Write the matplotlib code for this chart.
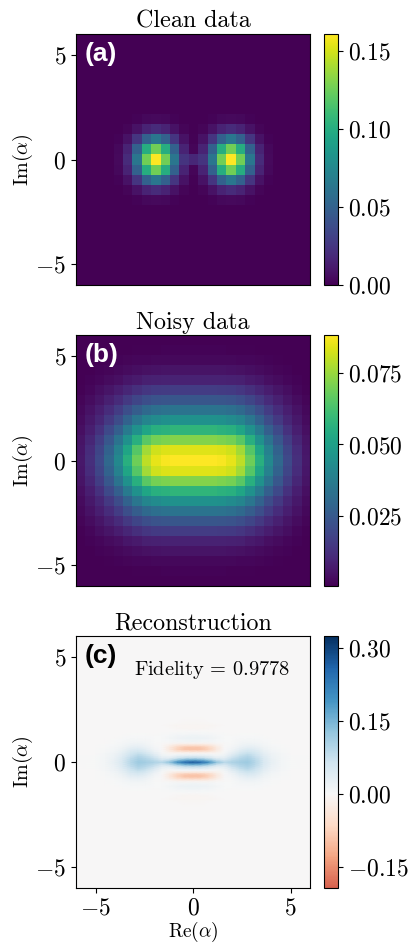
import numpy as np
import matplotlib
matplotlib.use("Agg")
import matplotlib.pyplot as plt
from matplotlib.colors import ListedColormap

plt.rcParams['mathtext.fontset'] = 'cm'
plt.rcParams['font.family'] = ['cmr10', 'DejaVu Sans']
plt.rcParams['axes.unicode_minus'] = True
plt.rcParams['axes.formatter.use_mathtext'] = True

W, H = 411, 948

titles = ["Clean data", "Noisy data", "Reconstruction"]
panel_tags = ["(a)", "(b)", "(c)"]
fidelity_label = r"$\mathrm{Fidelity}\, =\, 0.9778$"
y_ticks = [-5, 0, 5]
y_tick_labels = [r"$-5$", r"$0$", r"$5$"]
cbar_ticks_a = [0.00, 0.05, 0.10, 0.15]
cbar_labels_a = [r"$0.00$", r"$0.05$", r"$0.10$", r"$0.15$"]
cbar_ticks_b = [0.025, 0.050, 0.075]
cbar_labels_b = [r"$0.025$", r"$0.050$", r"$0.075$"]
cbar_ticks_c = [-0.15, 0.00, 0.15, 0.30]
cbar_labels_c = [r"$-0.15$", r"$0.00$", r"$0.15$", r"$0.30$"]

# Panel (a): 25x25 cells, values x 0.001. Rows go from the centre row outward,
# columns from the left edge to the centre column (left half read, right half mirrored).
clean_quarter = [
    [0, 0, 0, .6, 4, 20, 63, 126, 161, 126, 63, 24, 18],
    [0, 0, 0, .5, 3.2, 16, 50, 100, 126, 100, 50, 16, 2],
    [0, 0, 0, .2, 1.6, 8, 25, 50, 63, 50, 25, 8, 1],
    [0, 0, 0, 0, .5, 2.5, 8, 16, 20, 16, 8, 2.5, .5],
    [0, 0, 0, 0, 0, .4, 1.6, 3.2, 4, 3.2, 1.6, .4, 0],
    [0, 0, 0, 0, 0, 0, 0, .4, .5, .4, 0, 0, 0],
] + [[0] * 13] * 7

# Panel (b): 25x25 cells, values x 0.001. Rows from the centre outward, columns centre outward.
noisy_quarter = [
    [88.3, 88.3, 88.3, 87.4, 85, 79.5, 69, 56, 41.5, 30, 20, 12.4, 6.2],
    [84, 84, 84, 83.5, 82, 76, 65, 52, 39, 28, 19, 11.6, 5.8],
    [72, 72, 72, 71, 70, 66, 56, 45, 34, 24.5, 16.5, 10, 5],
    [58, 58, 58, 57, 56, 52, 45, 36.5, 27, 20, 13, 8, 4],
    [45, 45, 45, 44.5, 43, 40.5, 35, 28, 21, 15, 10, 6.3, 3.2],
    [34, 34, 34, 33.5, 32.5, 30.5, 26.5, 21.5, 16, 11.5, 7.8, 4.8, 2.4],
    [24, 24, 24, 23.8, 23, 21.6, 18.7, 15, 11.3, 8.2, 5.5, 3.4, 1.7],
    [16, 16, 16, 15.8, 15.4, 14.4, 12.5, 10, 7.5, 5.4, 3.7, 2.2, 1.1],
    [9, 9, 9, 8.9, 8.6, 8.1, 7, 5.7, 4.2, 3, 2, 1.3, .6],
    [5, 5, 5, 5, 4.8, 4.5, 3.9, 3.2, 2.4, 1.7, 1.2, .7, .5],
    [2.5, 2.5, 2.5, 2.4, 2.3, 2.2, 2, 1.6, 1.2, .9, .6, .5, .5],
    [1.2, 1.2, 1.2, 1.2, 1.1, 1.1, 1, .8, .6, .5, .5, .5, .5],
    [.6, .6, .6, .6, .6, .5, .5, .5, .5, .5, .5, .5, .5],
]

recon_x = [0, .4, .8, 1.2, 1.6, 2.0, 2.4, 2.8, 3.2, 3.6, 4.0, 4.5, 5.0, 6.0]
recon_y = [0, .1, .2, .3, .4, .5, .6, .7, .8, .9, 1.0, 1.15, 1.3, 1.45, 1.6, 1.75, 1.9, 2.2, 6.0]
recon_quarter = [
    [270, 250, 200, 130, 90, 100, 112, 118, 92, 52, 26, 9, 2, 0],
    [170, 160, 130, 80, 60, 85, 102, 110, 88, 50, 25, 9, 2, 0],
    [85, 80, 62, 35, 35, 70, 92, 104, 82, 46, 23, 8, 2, 0],
    [40, 37, 28, 12, 18, 50, 78, 94, 72, 41, 20, 7, 2, 0],
    [5, 5, 2, -3, 8, 35, 62, 78, 62, 34, 17, 6, 1, 0],
    [-45, -43, -36, -18, 2, 22, 46, 62, 52, 27, 13, 5, 1, 0],
    [-92, -88, -70, -32, -2, 12, 32, 47, 38, 20, 10, 4, 1, 0],
    [-92, -88, -68, -30, -2, 7, 22, 33, 28, 15, 7, 3, 0, 0],
    [-55, -52, -40, -17, -1, 4, 15, 23, 18, 10, 5, 2, 0, 0],
    [-12, -11, -9, -4, 0, 3, 10, 15, 12, 7, 3, 1, 0, 0],
    [12, 11, 9, 5, 2, 2, 6, 9, 8, 5, 2, 1, 0, 0],
    [20, 18, 14, 8, 3, 2, 4, 5, 4, 3, 1, 0, 0, 0],
    [12, 11, 8, 5, 2, 1, 2, 3, 2, 1, 0, 0, 0, 0],
    [2, 2, 1, 1, 0, 0, 1, 1, 1, 0, 0, 0, 0, 0],
    [-5, -5, -4, -2, 0, 0, 0, 0, 0, 0, 0, 0, 0, 0],
    [-6, -6, -5, -3, -1, 0, 0, 0, 0, 0, 0, 0, 0, 0],
    [-3, -3, -2, -1, 0, 0, 0, 0, 0, 0, 0, 0, 0, 0],
    [-1, -1, -1, 0, 0, 0, 0, 0, 0, 0, 0, 0, 0, 0],
    [0, 0, 0, 0, 0, 0, 0, 0, 0, 0, 0, 0, 0, 0],
]


def full_from_centre_out(q):
    q = np.asarray(q, float) * 1e-3
    q = np.hstack([q[:, :0:-1], q])
    return np.vstack([q[:0:-1], q])


def full_from_left_half(q):
    q = np.asarray(q, float) * 1e-3
    q = np.hstack([q, q[:, -2::-1]])
    return np.vstack([q[:0:-1], q])


clean = full_from_left_half(clean_quarter)
noisy = full_from_centre_out(noisy_quarter)
recon = full_from_centre_out(recon_quarter)
rx = np.r_[-np.array(recon_x)[:0:-1], recon_x]
ry = np.r_[-np.array(recon_y)[:0:-1], recon_y]

rdbu_part = ListedColormap(plt.cm.RdBu(np.linspace(0.203, 1.0, 256)))

fig = plt.figure(figsize=(W / 100, H / 100), dpi=100)


def box(x0, y0, x1, y1):
    return [x0 / W, 1 - y1 / H, (x1 - x0) / W, (y1 - y0) / H]


tops_bottoms = [(34, 285), (335, 586), (636, 888)]
axs = [fig.add_axes(box(76, t, 310, b)) for t, b in tops_bottoms]
caxs = [fig.add_axes(box(324, t, 338, b)) for t, b in tops_bottoms]

ext = [-6, 6, -6, 6]
im0 = axs[0].imshow(clean, origin='lower', extent=ext, aspect='auto', cmap='viridis',
                    vmin=0, vmax=0.161, interpolation='nearest')
im1 = axs[1].imshow(noisy, origin='lower', extent=ext, aspect='auto', cmap='viridis',
                    vmin=0.0005, vmax=0.0883, interpolation='nearest')
im2 = axs[2].pcolormesh(rx, ry, recon, shading='gouraud', cmap=rdbu_part,
                        vmin=-0.193, vmax=0.325, rasterized=True)

for ax, title, tag in zip(axs, titles, panel_tags):
    ax.set_xlim(-6, 6)
    ax.set_ylim(-6, 6)
    ax.set_title(title, fontsize=17.3, pad=4.5)
    ax.set_yticks(y_ticks)
    ax.set_yticklabels(y_tick_labels, fontsize=17)
    ax.set_ylabel(r"$\mathrm{Im}(\alpha)$", fontsize=14.5, labelpad=0)
    ax.set_xticks([])
    color = 'black' if tag == "(c)" else 'white'
    ax.text(0.037, 0.92, tag, transform=ax.transAxes, color=color, fontsize=19,
            fontweight='bold', family='Liberation Sans', ha='left', va='center')

axs[2].set_xticks(y_ticks)
axs[2].set_xticklabels(y_tick_labels, fontsize=17)
axs[2].set_xlabel(r"$\mathrm{Re}(\alpha)$", fontsize=14, labelpad=0)
axs[2].text(0.582, 0.867, fidelity_label, transform=axs[2].transAxes, fontsize=14.7,
            ha='center', va='center')

for cax, im, ticks, labels in zip(caxs, [im0, im1, im2],
                                  [cbar_ticks_a, cbar_ticks_b, cbar_ticks_c],
                                  [cbar_labels_a, cbar_labels_b, cbar_labels_c]):
    cb = fig.colorbar(im, cax=cax)
    cb.set_ticks(ticks)
    cb.set_ticklabels(labels, fontsize=17)

fig.savefig("out.png", dpi=100)
